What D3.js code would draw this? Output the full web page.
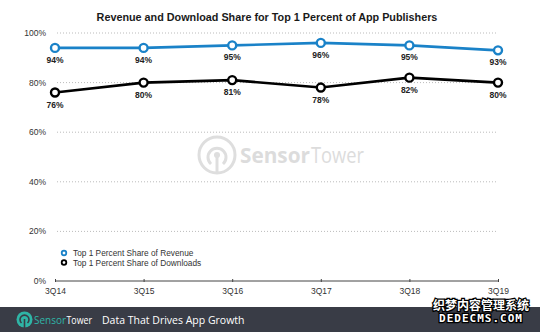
<!DOCTYPE html>
<html>
<head>
<meta charset="utf-8">
<script src="https://cdn.jsdelivr.net/npm/d3@7"></script>
<style>
  body { margin: 0; background: #fff; }
</style>
</head>
<body>
<div id="chart"></div>
<script>
(function () {
    var width = 540,
        height = 332;

    // data
    var quarters = ["3Q14", "3Q15", "3Q16", "3Q17", "3Q18", "3Q19"];
    var revenueShare = [94, 94, 95, 96, 95, 93];
    var downloadShare = [76, 80, 81, 78, 82, 80];
    var yTicks = [0, 20, 40, 60, 80, 100];
    var seriesNames = ["Top 1 Percent Share of Revenue", "Top 1 Percent Share of Downloads"];
    var seriesColors = ["#1a82c8", "#000000"];

    var sans = "'Liberation Sans', Arial, sans-serif";
    var open = "'Open Sans', sans-serif";

    var svg = d3.select("#chart").append("svg")
        .attr("width", width)
        .attr("height", height)
        .attr("font-family", sans)

    svg.append("rect").attr("width", width).attr("height", height).attr("fill", "#fff")

    var x = d3.scalePoint().domain(quarters).range([55, 498])
    var y = d3.scaleLinear().domain([0, 100]).range([281, 33])

    // title
    svg.append("text")
        .attr("x", 267).attr("y", 21)
        .attr("text-anchor", "middle")
        .attr("font-size", 10.8)
        .attr("font-weight", "bold")
        .attr("fill", "#1a1a1a")
        .text("Revenue and Download Share for Top 1 Percent of App Publishers")

    // watermark logo in the plot
    var wm = svg.append("g")
    wm.append("circle").attr("cx", 217).attr("cy", 155).attr("r", 18)
        .attr("fill", "none").attr("stroke", "#dedede").attr("stroke-width", 3)
    wm.append("path")
        .attr("d", "M211,164 A9,9 0 1,1 223,164")
        .attr("fill", "none").attr("stroke", "#dedede").attr("stroke-width", 3)
    wm.append("line").attr("x1", 217).attr("x2", 217).attr("y1", 155).attr("y2", 173)
        .attr("stroke", "#dedede").attr("stroke-width", 3)
    wm.append("circle").attr("cx", 217).attr("cy", 155).attr("r", 3).attr("fill", "#dedede")
    wm.append("text").attr("x", 240).attr("y", 163)
        .attr("font-family", open).attr("font-size", 21).attr("fill", "#dcdcdc")
        .attr("font-weight", "bold")
        .attr("textLength", 70).attr("lengthAdjust", "spacingAndGlyphs")
        .text("Sensor")
    wm.append("text").attr("x", 311).attr("y", 163)
        .attr("font-family", open).attr("font-size", 21).attr("fill", "#dcdcdc")
        .attr("textLength", 53).attr("lengthAdjust", "spacingAndGlyphs")
        .text("Tower")

    // y gridlines + labels
    svg.selectAll(".grid")
        .data(yTicks.filter(function (d) { return d > 0 }))
        .enter().append("line")
        .attr("class", "grid")
        .attr("x1", 57).attr("x2", 496)
        .attr("y1", function (d) { return y(d) })
        .attr("y2", function (d) { return y(d) })
        .attr("stroke", "#bbb")
        .attr("stroke-width", 1)
        .attr("stroke-dasharray", "1,2")

    svg.selectAll(".ylab")
        .data(yTicks)
        .enter().append("text")
        .attr("class", "ylab")
        .attr("x", 46)
        .attr("y", function (d) { return y(d) + 3 })
        .attr("text-anchor", "end")
        .attr("font-size", 8.5)
        .attr("fill", "#333")
        .text(function (d) { return d + "%" })

    // x axis
    var xAxis = svg.append("g")
        .attr("transform", "translate(0," + y(0) + ")")
        .call(d3.axisBottom(x).tickSize(3).tickSizeOuter(0))
    xAxis.attr("font-family", sans)
    xAxis.select(".domain").attr("stroke", "#444").attr("d", "M55,0H498")
    xAxis.selectAll(".tick line").attr("stroke", "#444").attr("y1", -2).attr("y2", 1)
    xAxis.selectAll(".tick text")
        .attr("font-size", 8.5)
        .attr("fill", "#333")
        .attr("y", 7)

    // lines
    var series = [revenueShare, downloadShare]
    var line = d3.line()
        .x(function (d, i) { return x(quarters[i]) })
        .y(function (d) { return y(d) })

    series.forEach(function (vals, s) {
        svg.append("path")
            .datum(vals)
            .attr("d", line)
            .attr("fill", "none")
            .attr("stroke", seriesColors[s])
            .attr("stroke-width", 2.6)

        svg.selectAll(".pt" + s)
            .data(vals)
            .enter().append("circle")
            .attr("class", "pt" + s)
            .attr("cx", function (d, i) { return x(quarters[i]) })
            .attr("cy", function (d) { return y(d) })
            .attr("r", 4)
            .attr("fill", "#fff")
            .attr("stroke", seriesColors[s])
            .attr("stroke-width", 2.4)

        svg.selectAll(".lab" + s)
            .data(vals)
            .enter().append("text")
            .attr("class", "lab" + s)
            .attr("x", function (d, i) { return x(quarters[i]) })
            .attr("y", function (d) { return y(d) + 15 })
            .attr("text-anchor", "middle")
            .attr("font-size", 8.5)
            .attr("font-weight", "bold")
            .attr("fill", "#222")
            .text(function (d) { return d + "%" })
    })

    // legend
    var legend = svg.selectAll(".legend")
        .data(seriesNames)
        .enter().append("g")
        .attr("class", "legend")
        .attr("transform", function (d, i) { return "translate(64," + (253 + i * 9.5) + ")" })
    legend.append("circle")
        .attr("r", 2.3)
        .attr("fill", "#fff")
        .attr("stroke", function (d, i) { return seriesColors[i] })
        .attr("stroke-width", 1.8)
    legend.append("text")
        .attr("x", 9).attr("y", 3)
        .attr("font-size", 8.3)
        .attr("fill", "#333")
        .text(function (d) { return d })

    // footer band
    svg.append("rect").attr("x", 0).attr("y", 307).attr("width", width).attr("height", 25)
        .attr("fill", "#393c46")
    svg.append("circle").attr("cx", 24.5).attr("cy", 319.5).attr("r", 8).attr("fill", "#2fb5a6")
    svg.append("path").attr("d", "M21.5,323 A4.5,4.5 0 1,1 27.5,323")
        .attr("fill", "none").attr("stroke", "#393c46").attr("stroke-width", 1.6)
    svg.append("line").attr("x1", 24.5).attr("x2", 24.5).attr("y1", 319).attr("y2", 328)
        .attr("stroke", "#393c46").attr("stroke-width", 1.6)
    svg.append("text").attr("x", 34).attr("y", 324)
        .attr("font-family", open).attr("font-size", 11).attr("fill", "#2fb5a6")
        .attr("textLength", 32).attr("lengthAdjust", "spacingAndGlyphs")
        .text("Sensor")
    svg.append("text").attr("x", 66.5).attr("y", 324)
        .attr("font-family", open).attr("font-size", 11).attr("fill", "#fff")
        .attr("textLength", 25.5).attr("lengthAdjust", "spacingAndGlyphs")
        .text("Tower")
    svg.append("text").attr("x", 102).attr("y", 324)
        .attr("font-family", open).attr("font-size", 10.5)
        .attr("fill", "#fff")
        .text("Data That Drives App Growth")

    // site watermark in corner
    svg.append("text").attr("x", 481).attr("y", 309.5)
        .attr("text-anchor", "middle")
        .attr("font-family", "'Noto Sans CJK SC', sans-serif")
        .attr("font-size", 12).attr("font-weight", "bold")
        .attr("fill", "#fff").attr("stroke", "#000").attr("stroke-width", 2.5)
        .attr("paint-order", "stroke")
        .text("织梦内容管理系统")
    svg.append("text").attr("x", 481).attr("y", 322)
        .attr("text-anchor", "middle")
        .attr("font-family", "'DejaVu Sans Mono', monospace")
        .attr("font-size", 11).attr("font-weight", "bold")
        .attr("letter-spacing", 1)
        .attr("fill", "#fff").attr("stroke", "#000").attr("stroke-width", 2.5)
        .attr("paint-order", "stroke")
        .text("DEDECMS.COM")
})();
</script>
</body>
</html>
